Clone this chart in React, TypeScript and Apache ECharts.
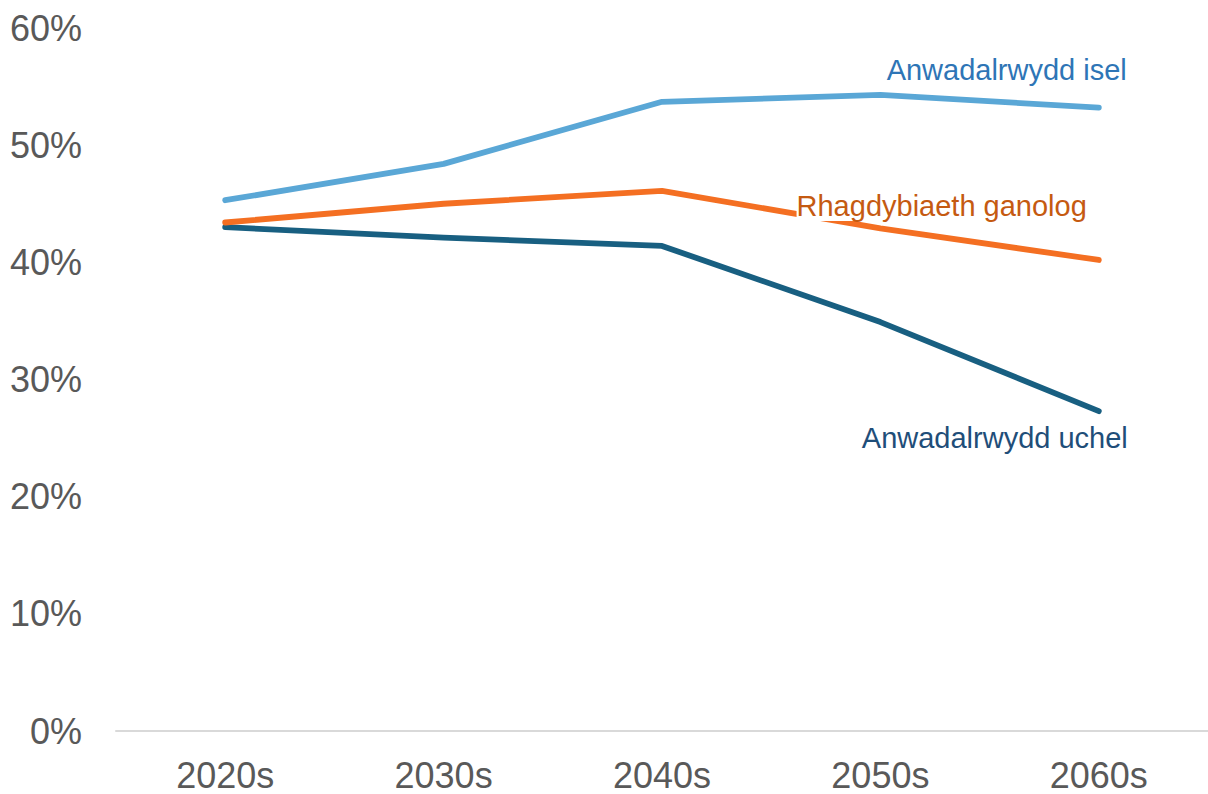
import React, { useEffect, useRef } from "react";
import * as echarts from "echarts";

const categories = ["2020s", "2030s", "2040s", "2050s", "2060s"];
const lowVolatility = [45.3, 48.4, 53.7, 54.3, 53.2];
const central = [43.4, 45.0, 46.1, 42.9, 40.2];
const highVolatility = [43.0, 42.1, 41.4, 34.9, 27.3];
const seriesNames = ["Anwadalrwydd isel", "Rhagdybiaeth ganolog", "Anwadalrwydd uchel"];

const FONT = "'Liberation Sans', Arial, sans-serif";

function withEndLabel(values: number[], label: any) {
  return values.map((v, i) =>
    i === values.length - 1 ? { value: v, label: { show: true, ...label } } : v
  );
}

export default function App() {
  const ref = useRef<HTMLDivElement>(null);
  useEffect(() => {
    if (!ref.current) return;
    const chart = echarts.init(ref.current, null, { renderer: "svg" });
    const lineBase = (color: string) => ({
      type: "line",
      symbol: "circle",
      symbolSize: 1,
      showSymbol: true,
      itemStyle: { color: "transparent" },
      lineStyle: { color, width: 5.8, cap: "round", join: "round" },
      emphasis: { disabled: true },
    });
    chart.setOption({
      animation: false,
      backgroundColor: "#ffffff",
      grid: { left: 116, top: 28, width: 1093, bottom: 63, containLabel: false },
      xAxis: {
        type: "category",
        data: categories,
        boundaryGap: true,
        axisLine: { show: true, lineStyle: { color: "#D9D9D9", width: 2 } },
        axisTick: { show: false },
        axisLabel: { color: "#595959", fontSize: 36, fontFamily: FONT, margin: 26 },
      },
      yAxis: {
        type: "value",
        min: 0,
        max: 60,
        interval: 10,
        axisLine: { show: false },
        axisTick: { show: false },
        splitLine: { show: false },
        axisLabel: {
          color: "#595959",
          fontSize: 36,
          fontFamily: FONT,
          margin: 34,
          formatter: (v: number) => `${v}%`,
        },
      },
      series: [
        {
          ...lineBase("#5AA7D6"),
          name: seriesNames[0],
          z: 3,
          data: withEndLabel(lowVolatility, {
            formatter: seriesNames[0],
            position: "inside",
            align: "right",
            verticalAlign: "middle",
            offset: [28, -38],
            color: "#2E75B6",
            fontSize: 29,
            fontFamily: FONT,
          }),
        },
        {
          ...lineBase("#F46F22"),
          name: seriesNames[1],
          z: 2,
          data: withEndLabel(central, {
            formatter: seriesNames[1],
            position: "inside",
            align: "right",
            verticalAlign: "middle",
            offset: [-12, -54],
            color: "#C55A11",
            fontSize: 29,
            fontFamily: FONT,
            backgroundColor: "#ffffff",
            lineHeight: 30,
            padding: [0, 0],
          }),
        },
        {
          ...lineBase("#185F81"),
          name: seriesNames[2],
          z: 1,
          data: withEndLabel(highVolatility, {
            formatter: seriesNames[2],
            position: "inside",
            align: "right",
            verticalAlign: "middle",
            offset: [29, 27],
            color: "#1F4E79",
            fontSize: 29,
            fontFamily: FONT,
          }),
        },
      ],
    });
    return () => chart.dispose();
  }, []);
  return (
    <div
      ref={ref}
      style={{ position: "fixed", left: 0, top: 0, width: 1208, height: 794 }}
    />
  );
}
